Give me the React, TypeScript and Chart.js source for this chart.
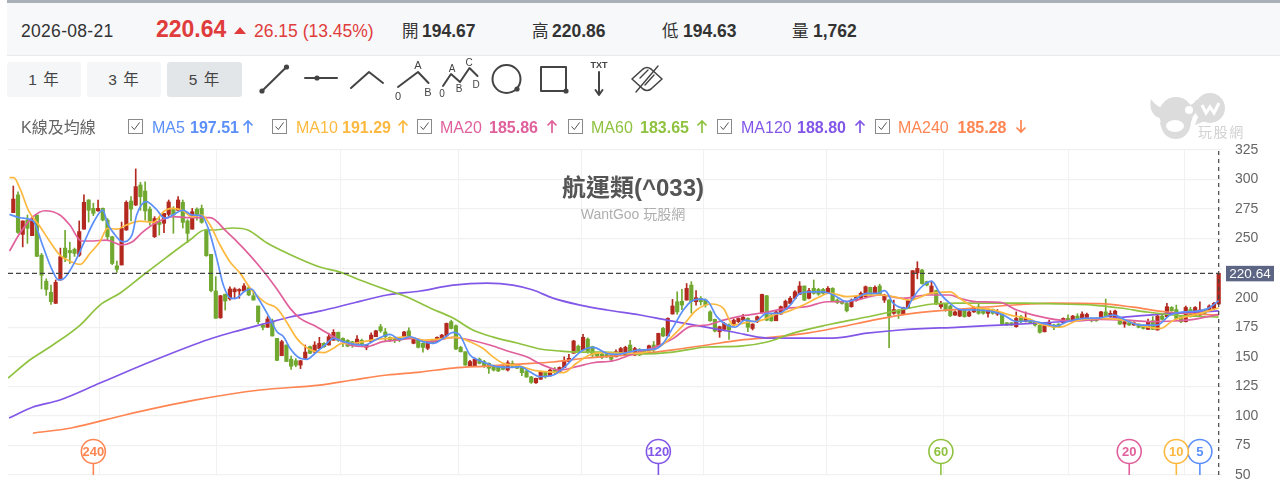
import React, { useEffect, useRef } from "react";
import { Chart, registerables } from "chart.js";

Chart.register(...registerables);

const opens = [
  272,287,253.6,265.7,252.5,270,236,214,204.6,195.3,
  215,242,240,241,236,258,282.7,275.6,273.6,275.6,
  265.7,251.6,227,227.7,257.3,281.8,278.4,295.4,290.3,275,
  251.6,264,263,270.5,275.6,274,280.7,265,258,275,
  275.6,257.3,236.7,205.7,183,203,199,205,205.7,205.7,
  208.5,201.7,193,177,175,179.7,165.6,151,160,148,
  146.7,143,148.7,158.6,154,157,161.4,160,164,170.7,
  165.6,164,162.8,160,164,158,162.8,167,175.5,171,
  166.5,165.6,166,167,172,161.4,164,161.4,157.2,164,
  162.8,164.8,167.6,179.7,176.3,158,154.3,142.5,142.2,148,
  146,144.5,142.5,141.7,142,138.8,144.5,143,140.8,138,
  133,128,131,137,133.8,138.8,137.4,140.8,146,153,
  159,155.8,165,158.6,153,152.4,152,151.5,150,153,
  151.5,160,151.5,156.4,155.7,155,160,158.6,174,167.6,
  186.2,196.6,197,198,210.7,196.6,199.5,198,188,181.7,
  171.2,173.2,176.9,176.9,179.7,181,182.5,174,179.7,187.3,
  201.7,185.3,180.5,186.2,190,195.2,199.5,202.8,209.9,199.5,
  208,207,207,203.7,208,198,196.6,195.2,192.4,197.5,
  199.5,200.9,208.8,204.2,209.9,198,198,186.8,189.6,186.2,
  191,198.6,221,223.4,213.6,203.7,206,192.4,194.7,193,
  185.3,184.5,189.6,184.5,188,192.4,190,186.8,190,186.2,
  186,178.8,178.8,175.5,184,179.7,181.7,179.7,176.9,171.2,
  176.9,176.9,177.7,178.8,182.5,181,184.5,182.5,182.5,182.5,
  182.5,184,188,184,182.5,182.5,177.7,178.8,176.9,177.7,
  176,173.2,180.5,172.7,184.5,184,191.8,190,184,179.7,
  190,184.5,185.3,189.6,189,191,194.67,
];
const closes = [
  283.5,255.3,265,258.7,265,235,219,207,196.7,213,
  234.7,234,238,237.5,256,280.7,274,271.4,275.6,265.7,
  251.6,229,224,258.7,280.7,275,294,285.5,273.4,265,
  267,262,271.4,281,270,282.7,263.8,254.5,272.8,270,
  263.8,235.6,206,182.6,201.7,197.2,207.4,207.4,207,210,
  202.3,198,179.7,175,182,167.6,147,162.8,146,142,
  143,146.7,154,153,160,161.4,158.6,167,170.7,164,
  162.8,159,160,165,160,160,168.4,172,172,167,
  164,163.6,164,171,167,165.6,158,158,161.4,161.4,
  166.5,168.4,178.3,174,156.6,154.3,143,146,148,144.5,
  142.2,140.3,138.8,138,139.4,145,142,140.3,136.6,133,
  128.4,131.8,137,133,138.8,137,141,146.4,148.7,163.4,
  154.3,166.5,154.3,151.5,150.7,149.6,150,148,154.3,157,
  158,154.3,157,151.5,153.5,159.4,155.8,169.9,167.6,182.5,
  193,188,193.8,207.9,196.6,200,196.6,193.8,180.5,171.8,
  175.5,178.3,172.7,181,182.5,183.4,175,177.7,183.9,202.8,
  181,180.5,188,192.4,197,199.5,205,209.9,198,206,
  203.7,203,203.7,208,197.5,196,195.2,189,198,200.9,
  203.7,209.3,202.3,208.8,202.3,202.3,184.5,190,186.8,191.8,
  197.5,222.9,224.8,212,210.7,209.9,194.7,195,190,184.8,
  188,189.6,184,188,191.8,186.8,186.8,190,186.8,188,
  177.7,176.9,176.9,182.5,179.7,182.5,178.8,176.9,170.7,176.9,
  178.8,175,175.5,182.5,180.5,184.5,181.7,186.2,185.9,180.5,
  180.5,188,184.5,186.8,188.7,177.7,179.7,176.9,178.8,175,
  174,179.7,173.2,184.5,181.7,192.4,189,182.5,179.7,191.8,
  184,191.8,189.6,186.8,193,195.2,220.64,
];
const highs = [
  294.5,289.7,265,270,268.5,270,237.5,216,210.8,215,
  242,257,247,242,265,287,283,280,282.7,276,
  267,252,231,264,282,285.5,309,297.6,298,277,
  268.6,268.6,271.4,282.7,277,285.5,282.7,266,275.6,276,
  278.4,258,236.7,217.8,202,203,209.3,208.5,207.7,212,
  210,205,193,178,184,182,165.6,164,160,150.7,
  148.5,147,160,159,162.8,166.5,162,170,173,171,
  166,164.5,163,168,165,160.5,170.4,172.5,177.5,174,
  167,166,166.5,171.5,174.6,166,165,162,161.6,164.5,
  167,169,178.6,181,177,159,154.3,147,149,149,
  147,145,143,142,143,146.7,146.5,143.5,141,138.5,
  133.5,132,138,137.5,139.5,141,141.5,150,152,164,
  160,169,166,159,154,153,153,152,156,158,
  159,164,158,157,156,160,163,170,175,183,
  198.6,205,207,212,213.6,206,201,199,189,182,
  176,179,178,182,183,186,183,178,184.5,203,
  202,186,188.5,193,198,201,206,213.6,210,208,
  215,208,208,209.5,208.5,199,197,196,199,202,
  205,210,209,210,211.5,203,198.5,198,190,192,
  198,223,230.5,224,214,214,206.5,197,195,193.5,
  189,190,190,189,192.5,195.5,190.5,190.5,190.5,190,
  186.5,179,179,188,185,188,182,180,177,177,
  181,177.5,178,183,185.5,185,186.5,188,187,183,
  183,188.5,198.9,189,189.5,183,180,179.5,179.5,178,
  177,182,184,185.5,186,195.2,192.5,193.8,185,193,
  192,192.5,196.6,190.5,194,196,220.86,
];
const lows = [
  272,254.5,243,246,252.5,235,207.4,202,194.4,195,
  215,230.5,229,235,235,258,264,269.4,273,265,
  249,228,221.5,227.7,257,265,278,274,265.7,261.5,
  251,253,255,268.6,254.5,274,259,246.6,258,265.7,
  263,235,205,182.6,182.6,189.6,198,199,199.5,205.7,
  201.7,198,178,172.7,175,167.6,146.7,151,146,139.4,
  141.6,140,148.7,152.6,153,157,158,160,164,163,
  158.6,158.5,158,160,159,156,162.8,167,170.7,162.8,
  162.8,162,162.8,167,166.5,161,157.5,154,156,161,
  162.8,164.8,167.6,173.5,156,154,142.8,142,142.2,144,
  141,136,138,137.5,139,138,141.5,140,134,132.5,
  127.5,127.5,131,132,133.8,135,137.4,140.8,146,153,
  153.5,155.8,153,150,150,148.5,149.5,146,150,152.5,
  151,153.5,151,151,152.8,155,154,158,167,167.6,
  186.2,186,190,198,187,193.8,193.8,192,180,171,
  166.5,172,164.8,176,179,180.5,171.2,172.7,179,187,
  180.5,180,180.5,186,190,195,199,202.8,197.5,199,
  203,202,203,203.7,197,195,194.5,188,192,197,
  199,200.9,202,204,202,196,157.7,186,182.5,185.5,
  191,198,216,211.5,210,203,194,191,188.5,184,
  185,184,183.5,184,187.5,186,186,183.5,186,185,
  177.5,176.5,176.5,175,179,179.5,178.5,176,170,171,
  176.5,173,175,178.5,180,180.5,181,182,182,179.5,
  180,184,184,183.5,182,177.5,175,176.5,176.5,174.5,
  173.5,173,173,172.5,181,183.5,188.5,182,179,179.5,
  183.5,184,185,186,188.5,190.5,194.63,
];

const ma5At = [-0.8,1.4,4.2,6.2,8.1,9.6,10.6,13.1,15.1,17.1,19,20,21.2,23.2,25.2,26.2,28.2,30.2,32.2,34.1,36,38,40,41.4,43.2,44.6,46.2,47.2,49.2,50.6,52,54.5,56,57.4,58.8,60.9,62.3,64.1,66.2,68,70.1,72.2,74.7,76.8,80,82.1,84.3,87,89.2,91.3,93.4,94.8,97,98.4,100.5,102.6,105.5,107.6,109.7,111.8,114.7,116.8,118.9,121,123.2,126,128.1,131,133,135.9,138,140.2,142.3,144.4,146.2,147.6,149.4,151.5,153.3,155.4,157.5,160,162.5,165,167.1,169.2,172,174.2,177,179.1,181.2,183.4,185.1,186.9,189.7,190.8,192.6,195,196.8,199,201.1,204.6,208.2,210.3,213.1,216,218.8,221.6,223.8,227.3,230.8,233.7,236.5,239.3,242.9,245.7,248.5,251.4,253.8,256];
const ma5Values = [270.5,267.7,265,244.6,224.9,215,215.8,230.5,247.4,264.3,274.2,262.9,255.3,247.4,253,270,281.3,275.6,267.2,270.5,274.2,270,269.4,258.7,233.3,210.8,199.5,199.5,205.7,207.4,199.5,182.5,171.2,167,157,148.7,147.8,153,160,165.6,162.8,160.8,160,164,169,164.8,167,162.8,161.4,165.6,170.7,168.4,151.5,147.9,144.5,141.7,141,141.7,137.4,133.2,134.6,140.3,148.7,155.8,158,153,152,154.3,155.8,156.3,161.4,175.5,189.6,198,198.9,196.6,184,176.9,175,181,179.7,186.8,186.8,193.8,203.7,205,205,202.3,196.6,199.5,203.7,203.7,206,195.2,191,198,208,214,203.7,195,190,189.6,188,185.3,179.7,180.5,178.3,176,179.7,182.5,183,185.3,180.5,176.9,176.9,185.3,188,188.7,191,197.51];

const ma10At = [-0.8,0.1,1.4,3.2,5.7,7.8,9.9,12,14.2,16.3,18.4,20,22,24,26.9,29.7,31.9,33.6,35.8,37.9,40,41.8,43.9,46,48.2,50.3,52.4,53.8,56,58,60.2,62,63.7,65.8,67.9,69.8,72.2,74.3,77.2,80,83.6,87,89.9,94.1,97,99.8,101.9,104,107.6,110.4,113.2,116.8,119.6,122.4,125.3,128.8,132.4,136.6,139.5,142.3,145.1,148.3,150.8,152.9,156.5,159,161.4,164.2,167.8,170.6,173.5,177,181.2,184,186.9,190.5,194.7,199,201,203.9,208.2,211.7,215.3,218.8,222.3,225.9,230.8,235.8,240,243.6,246.4,250.7,256];
const ma10Values = [301.6,301.6,292.5,274,260,247.4,236,231,228.2,237.6,247.4,258.7,258,261.5,264.9,263.8,272.8,275.6,274.2,268.6,270,261.5,244.6,230.5,220.6,208,199.5,195.2,191,179.7,165.6,158.6,155,153.5,157,161.4,161.4,162.8,164.8,165.6,167,164.2,164.8,166.5,162.8,157,150,144.5,142.2,138.8,137.4,136.6,144.5,151.5,153.5,153,153,157,165.6,176.9,189.6,194.7,191,176.9,179.7,181,185.3,188,193.8,199.5,204,200.9,202.3,202.3,200.9,198,203.7,205,199.5,192.4,189.6,185.3,182.5,176.9,175,180.5,182.5,181,176,174,181,185.3,191.29];

const ma20At = [-0.8,1.4,4.2,6.7,9.9,12,14.5,17,19.8,23,25.1,27.6,30.5,34,37.5,41.8,45.3,48.9,52.4,55.9,58.8,60.9,64.4,68,71.5,75,78.5,81.4,84.9,88.5,93.4,97,101.2,105.5,109,112.5,116.1,119.6,123.2,127.4,131,133,136.6,140.2,143.7,147.3,150.8,155,159.3,164.2,168.5,172.8,175.6,179.1,184,189,194,199,201,204.6,209.6,213.1,216.7,222.3,225.9,230.8,236.5,241.5,246.4,250.7,256];
const ma20Values = [239.5,254.5,268.6,273.6,270,261.5,248,248,248.8,244.6,246.9,255.9,263.8,268.6,267.7,267.7,255.9,241.8,226,207.9,191,182.5,175.5,167,160,158.6,162.8,164,165.6,162.8,166.5,164.2,160,154.3,150,143,138.8,141.7,145,146.7,151.5,154.3,158.6,165.6,175.5,176.9,181,184.8,187.3,191,192.4,196.6,196.6,198,202.3,199.5,202.3,202.3,199.5,196.6,196,189.6,185.3,181,180.5,181.7,181,179.7,180.3,181.7,185.86];

const ma60At = [-1.1,3.5,8.4,14.2,18.4,22.7,27.6,32.6,37.5,40.7,42.4,46.7,49.8,53.9,58.1,65.1,69.4,73.6,79.4,83.6,88.5,93.4,97.6,101.9,107,111.9,116.1,120.4,125.3,133.1,140.1,147.3,154.4,160.1,165.6,172.8,181.3,188.3,195.3,201.1,208.1,215.3,222.3,229.3,235.1,240.8,246.3,250.6,256];
const ma60Values = [132,147.3,160,176.9,193.8,204,219.2,234.4,248.8,257.3,257.3,259,257.3,246.3,237.8,226,221.7,215,206.5,200.6,191.3,182.8,172.7,166.7,161.7,156.6,154.9,154,154,152.4,154,158.3,159.1,162.5,170,176.9,183.7,189.6,194.7,195.5,195.5,195.5,194.7,193.8,191.3,187.9,185.4,184.5,183.65];

const ma120At = [-0.9,4.2,9.9,18.4,29,38.2,42.4,46.7,53.9,58.8,65.1,72.2,79.4,86.4,93.4,100.6,106.1,110.4,114.6,120.4,126.1,133.1,138.8,145.9,152.9,160.1,167.1,174.1,181.3,188.3,201.1,209.6,218.1,225.1,233.6,243.6,256];
const ma120Values = [98.2,107.5,113.5,127.8,145.6,160,165.9,171,178.6,183.7,188.7,195.5,202.3,205.7,210.7,212.4,210.7,206.5,199.7,193.8,189.6,185.4,181,176,171,165.9,165.9,165.9,170,172.7,175.2,176.9,178.6,180.3,182.8,186.2,188.8];

const ma240At = [4.2,12.3,23.7,38.8,52.4,65.1,72.2,79.4,86.4,93.4,100.6,107.6,114.6,121.9,133.1,140.1,147.3,154.4,161.4,168.6,175.6,182.6,189.8,201.1,209.6,220.8,230.8,237.8,245,256];
const ma240Values = [85.5,89.8,100.8,113.5,121.9,126.1,130.4,134.6,137.1,140.5,142.2,143.9,145.6,149,152.4,155.8,160,164.2,166.7,170,175.2,181,186.2,190.4,193,195.5,195,192,187.9,185.28];

const maPeriods = [5, 10, 20, 60, 120, 240];
const maNames = ["MA5", "MA10", "MA20", "MA60", "MA120", "MA240"];
const maLast = ["197.51", "191.29", "185.86", "183.65", "188.80", "185.28"];
const maUp = [true, true, true, true, true, false];
const maColors = ["#5b8ff9", "#fdb93f", "#e0609c", "#8fc23f", "#8257e8", "#ff8552"];

const yTicks = [50, 325];
const hiddenTick = 225;
const monthGridAt = [18.3, 43.2, 69.4, 94.5, 120.6, 146.5, 172.8, 197.5, 224, 248.7];
const lastPrice = 220.64;
const lastIndex = 256;
const xRange = [-1.126, 256.7];

const FONT = '"Liberation Sans", "Noto Sans CJK TC", sans-serif';
const UP = "#b3291f";
const DOWN = "#70a830";

const toPoints = (at: number[], values: number[]) => at.map((x, i) => ({ x, y: values[i] }));

const overlays = {
  id: "overlays",
  afterDatasetsDraw(chart: any) {
    const { ctx, scales } = chart;
    const x = scales.x;
    const y = scales.y;
    ctx.save();
    const baseY = y.getPixelForValue(yTicks[0]);
    maPeriods.forEach((p, i) => {
      const cx = x.getPixelForValue(lastIndex - (p - 1));
      const cy = baseY - 23.5;
      ctx.strokeStyle = maColors[i];
      ctx.fillStyle = "#fff";
      ctx.lineWidth = 1.6;
      ctx.beginPath();
      ctx.moveTo(cx, cy + 12);
      ctx.lineTo(cx, baseY);
      ctx.stroke();
      ctx.beginPath();
      ctx.arc(cx, cy, 12, 0, Math.PI * 2);
      ctx.fill();
      ctx.stroke();
      ctx.fillStyle = maColors[i];
      ctx.font = `bold 13px ${FONT}`;
      ctx.textAlign = "center";
      ctx.textBaseline = "middle";
      ctx.fillText(String(p), cx, cy + 0.5);
    });
    const py = y.getPixelForValue(lastPrice);
    ctx.fillStyle = "#5c6584";
    ctx.fillRect(1226, py - 7.5, 48, 15.5);
    ctx.fillStyle = "#fff";
    ctx.font = `13.5px ${FONT}`;
    ctx.textAlign = "center";
    ctx.textBaseline = "middle";
    ctx.fillText(lastPrice.toFixed(2), 1250, py + 0.5);
    ctx.restore();
  },
};

function Tools() {
  const s = { fill: "none", stroke: "#444", strokeWidth: 2, strokeLinecap: "round" as const, strokeLinejoin: "round" as const };
  const t = (x: number, y: number, c: string, size = 11, w = 400) => (
    <text x={x} y={y} textAnchor="middle" fontSize={size} fontWeight={w} fill="#444" fontFamily={FONT}>{c}</text>
  );
  return (
    <svg width={1280} height={110} style={{ position: "absolute", left: 0, top: 0 }}>
      <path d="M262 91 L286.5 67" {...s} />
      <circle cx={262} cy={91} r={2.6} fill="#444" />
      <circle cx={286.5} cy={67} r={2.6} fill="#444" />
      <path d="M305 78 L337 78" {...s} />
      <circle cx={317} cy={78} r={2.6} fill="#444" />
      <path d="M351 88 L369 72 L383 83" {...s} />
      <path d="M398 87 L418 72 L428.5 83" {...s} />
      {t(418, 69, "A", 11)}
      {t(398, 100, "0", 11)}
      {t(428, 96, "B", 11)}
      <path d="M443 86 L451 74 L460 82 L469.5 68 L477.5 76" {...s} />
      {t(452, 72, "A", 10)}
      {t(442, 97, "0", 10)}
      {t(459, 92, "B", 10)}
      {t(469, 66, "C", 10)}
      {t(476, 88, "D", 10)}
      <circle cx={506.5} cy={79} r={14} {...s} />
      <circle cx={517} cy={89} r={2.6} fill="#444" />
      <rect x={541} y={67} width={25} height={24} {...s} />
      <circle cx={566} cy={91} r={2.6} fill="#444" />
      {t(599, 68, "TXT", 9, 700)}
      <path d="M599 72 L599 95 M595.5 90 L599 95 L602.5 90" {...s} />
      <path d="M632 79 L643 69 Q647 66 651 69 L662 79 L651 89 Q647 92 643 89 Z" {...s} strokeWidth={1.6} />
      <path d="M636 92 L658 66 M640 78 L648 70 M645 85 L654 75" {...s} strokeWidth={1.4} />
    </svg>
  );
}

function Legend() {
  const checkX = [128, 272, 417, 568, 717, 875];
  const nameX = [152, 296, 440, 591, 741, 898];
  const valueX = [190, 342, 489, 640, 797, 957.5];
  const arrowX = [248, 403, 552, 702, 860, 1021];
  return (
    <>
      <div style={{ position: "absolute", left: 21, top: 118, fontSize: 16, color: "#666", lineHeight: "19px", whiteSpace: "nowrap" }}>K線及均線</div>
      {maNames.map((n, i) => (
        <React.Fragment key={n}>
          <svg width={17} height={17} style={{ position: "absolute", left: checkX[i], top: 119 }}>
            <rect x={0.5} y={0.5} width={14} height={14} fill="#fff" stroke="#8a8a8a" />
            <path d="M3.5 7.5 L6.3 10.5 L11.5 3.5" fill="none" stroke="#555" strokeWidth={1} />
          </svg>
          <div style={{ position: "absolute", left: nameX[i], top: 118, fontSize: 16, color: maColors[i], lineHeight: "19px", whiteSpace: "nowrap" }}>{n}</div>
          <div style={{ position: "absolute", left: valueX[i], top: 118, fontSize: 16, fontWeight: 700, color: maColors[i], lineHeight: "19px", whiteSpace: "nowrap" }}>{maLast[i]}</div>
          <svg width={14} height={16} style={{ position: "absolute", left: arrowX[i] - 7, top: 119 }}>
            {maUp[i] ? (
              <path d="M7 14 L7 2 M2.5 6.5 L7 2 L11.5 6.5" fill="none" stroke={maColors[i]} strokeWidth={1.7} />
            ) : (
              <path d="M7 1 L7 13 M2.5 8.5 L7 13 L11.5 8.5" fill="none" stroke={maColors[i]} strokeWidth={1.7} />
            )}
          </svg>
        </React.Fragment>
      ))}
    </>
  );
}

function Watermark() {
  return (
    <>
      <svg width={100} height={50} style={{ position: "absolute", left: 1146, top: 92 }}>
        <path d="M5 7 C2 20 10 28 20 26 C25 16 30 12 37 10 C30 14 18 18 12 14 C9 12 7 10 5 7 Z" fill="#dcdcdc" />
        <path d="M51 7 C54 18 48 26 42 26 L36 14 C43 15 48 12 51 7 Z" fill="#dcdcdc" />
        <circle cx={30} cy={22} r={17} fill="#dcdcdc" />
        <path d="M14 30 C16 44 24 47 30 47 C36 47 44 43 45 30 L30 26 Z" fill="#dcdcdc" />
        <ellipse cx={29} cy={34} rx={9} ry={6} fill="#fff" />
        <circle cx={43} cy={18} r={4} fill="#fff" />
        <circle cx={64} cy={16} r={15} fill="#dcdcdc" />
        <path d="M52 25 L49 33 L59 29 Z" fill="#dcdcdc" />
        <path d="M56 13 L60 21 L64 15 L68 21 L73 11" fill="none" stroke="#fff" strokeWidth={3} />
      </svg>
      <div style={{ position: "absolute", left: 1198, top: 124, fontSize: 14, letterSpacing: 1.6, color: "#d2d2d2", lineHeight: "17px", whiteSpace: "nowrap" }}>玩股網</div>
    </>
  );
}

export default function App() {
  const ref = useRef<HTMLCanvasElement>(null);

  useEffect(() => {
    const canvas = ref.current!;
    const idx = opens.map((_, i) => i);
    const colors = idx.map((i) => (closes[i] >= opens[i] ? UP : DOWN));
    const lineSets = [ma240At, ma120At, ma60At, ma20At, ma10At, ma5At];
    const valueSets = [ma240Values, ma120Values, ma60Values, ma20Values, ma10Values, ma5Values];
    const lineColor = [5, 4, 3, 2, 1, 0];
    const chart = new Chart(canvas, {
      type: "bar",
      data: {
        datasets: [
          {
            type: "bar",
            label: "wick",
            data: idx.map((i) => ({ x: i, y: [lows[i], highs[i]] })),
            backgroundColor: colors,
            barThickness: 1,
            grouped: false,
            order: 30,
          },
          {
            type: "bar",
            label: "body",
            data: idx.map((i) => ({ x: i, y: [opens[i], closes[i]] })),
            backgroundColor: colors,
            barThickness: 3.5,
            grouped: false,
            order: 29,
          },
          ...lineSets.map((at, k) => ({
            type: "line",
            label: maNames[lineColor[k]],
            data: toPoints(at, valueSets[k]),
            borderColor: maColors[lineColor[k]],
            borderWidth: 1.7,
            pointRadius: 0,
            cubicInterpolationMode: "monotone",
            order: 20 - k,
          })),
          {
            type: "line",
            label: "last",
            data: [{ x: xRange[0], y: lastPrice }, { x: lastIndex, y: lastPrice }],
            borderColor: "#444",
            borderWidth: 1.2,
            borderDash: [5, 3],
            pointRadius: 0,
            order: 5,
          },
          {
            type: "line",
            label: "cross",
            data: [{ x: lastIndex, y: 50 }, { x: lastIndex, y: 325 }],
            borderColor: "#444",
            borderWidth: 1.2,
            borderDash: [4, 4],
            pointRadius: 0,
            order: 4,
          },
        ] as any,
      },
      options: {
        responsive: false,
        animation: false,
        events: [],
        layout: { padding: { left: 8, top: 150, bottom: 12, right: 0 } },
        plugins: { legend: { display: false }, title: { display: false }, tooltip: { enabled: false } },
        scales: {
          x: {
            type: "linear",
            offset: false,
            min: xRange[0],
            max: xRange[1],
            grid: { offset: false, color: "#f1f1f2", drawTicks: false, lineWidth: 1 },
            border: { display: false },
            ticks: { display: false },
            afterBuildTicks: (s: any) => {
              s.ticks = monthGridAt.map((value) => ({ value }));
            },
            afterFit: (s: any) => {
              s.height = 0;
            },
          },
          y: {
            position: "right",
            min: yTicks[0],
            max: yTicks[1],
            grid: { color: "#f1f1f2", drawTicks: false, lineWidth: 1.2 },
            border: { display: false },
            ticks: {
              stepSize: 25,
              padding: 13,
              color: "#666",
              font: { family: FONT, size: 14 },
              callback: (v: any) => (v === hiddenTick ? "" : String(v)),
            },
            afterFit: (s: any) => {
              s.width = 58;
              s.paddingTop = 0;
              s.paddingBottom = 0;
            },
          },
        },
      } as any,
      plugins: [overlays],
    });
    return () => chart.destroy();
  }, []);

  const label = { position: "absolute" as const, top: 21, lineHeight: "20px", fontSize: 17.5, color: "#333", whiteSpace: "nowrap" as const };
  const stats: [string, string, number, number][] = [
    ["開", "194.67", 402, 422],
    ["高", "220.86", 532, 552],
    ["低", "194.63", 662, 683],
    ["量", "1,762", 792, 813],
  ];
  const ranges: [string, number, number, string][] = [
    ["1 年", 7, 74, "#f5f6f8"],
    ["3 年", 87, 74, "#f5f6f8"],
    ["5 年", 167, 75, "#e3e6e9"],
  ];

  return (
    <div style={{ position: "absolute", left: 0, top: 0, width: 1280, height: 487, overflow: "hidden", background: "#fff", fontFamily: FONT, filter: "blur(0.35px)" }}>
      <canvas ref={ref} width={1280} height={487} style={{ position: "absolute", left: 0, top: 0, width: 1280, height: 487 }} />
      <div style={{ position: "absolute", left: 7, top: 0, width: 1273, height: 3, background: "#aab0b8" }} />
      <div style={{ position: "absolute", left: 7, top: 3, width: 1273, height: 52, background: "#f7f8fa", borderBottom: "1px solid #e9eaec" }} />
      <div style={{ ...label, left: 21, letterSpacing: 0.3 }}>2026-08-21</div>
      <div style={{ ...label, left: 156, top: 19, fontSize: 23, fontWeight: 700, color: "#e03c3c" }}>220.64</div>
      <svg width={14} height={10} style={{ position: "absolute", left: 234, top: 26 }}>
        <path d="M0 8 L6 1 L12 8 Z" fill="#e03c3c" />
      </svg>
      <div style={{ ...label, left: 254, fontSize: 17.5, color: "#e03c3c" }}>26.15 (13.45%)</div>
      {stats.map(([k, v, kx, vx]) => (
        <React.Fragment key={k}>
          <div style={{ ...label, left: kx, fontSize: 16.5 }}>{k}</div>
          <div style={{ ...label, left: vx, fontWeight: 700 }}>{v}</div>
        </React.Fragment>
      ))}
      {ranges.map(([t, x, w, bg]) => (
        <div key={t} style={{ position: "absolute", left: x, top: 62, width: w, height: 35, lineHeight: "35px", textAlign: "center", background: bg, borderRadius: 3, fontSize: 15.5, color: "#444", letterSpacing: 1 }}>{t}</div>
      ))}
      <Tools />
      <Legend />
      <Watermark />
      <div style={{ position: "absolute", left: 433, width: 400, top: 173, textAlign: "center", fontSize: 24, fontWeight: 700, color: "#555", lineHeight: "29px" }}>航運類(^033)</div>
      <div style={{ position: "absolute", left: 433, width: 400, top: 205, textAlign: "center", fontSize: 14, color: "#aeaeae", lineHeight: "18px" }}>WantGoo 玩股網</div>
    </div>
  );
}
